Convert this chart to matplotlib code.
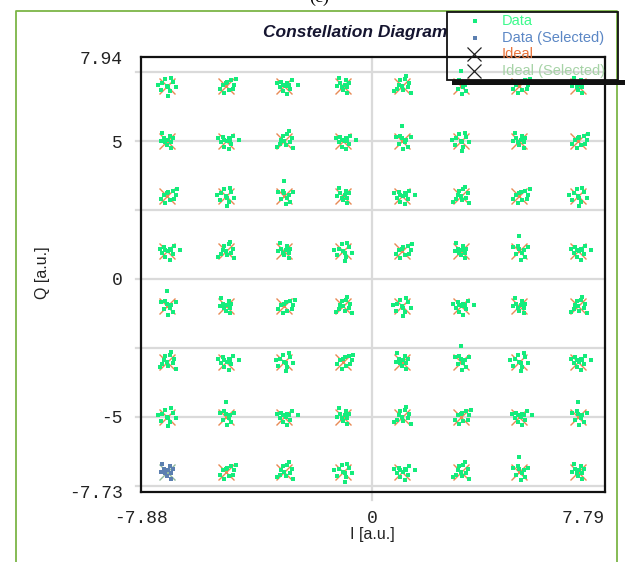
import matplotlib.pyplot as plt
import numpy as np
from matplotlib.lines import Line2D
from matplotlib.patches import Rectangle

# 64-QAM ideal levels
levels = [-7, -5, -3, -1, 1, 3, 5, 7]

# hand-read scatter shapes around each ideal point (I, Q offsets, a.u.)
cloud_i = [
    [-0.15, 0.05, 0.20, -0.05, 0.10, -0.20, 0.30, 0.00, -0.30, 0.15, 0.05],
    [0.20, -0.10, 0.25, 0.05, -0.20, 0.30, 0.10, -0.05, 0.35, 0.00],
    [-0.10, 0.10, -0.15, 0.20, 0.05, -0.05, 0.25, -0.25, 0.10, 0.45, 0.15, -0.05],
    [0.10, -0.10, 0.15, 0.00, -0.20, 0.20, 0.05, -0.05, 0.15, -0.15],
    [0.00, 0.15, -0.10, 0.20, -0.20, 0.05, 0.30, -0.05, 0.10, 0.00],
    [-0.05, 0.10, 0.20, -0.15, 0.05, 0.25, -0.25, 0.15, 0.00, 0.30, -0.10],
]
cloud_q = [
    [0.10, -0.05, 0.15, 0.25, -0.20, -0.15, -0.05, 0.00, 0.05, 0.30, -0.35],
    [0.20, 0.05, -0.10, 0.15, -0.10, 0.05, -0.15, -0.25, 0.25, 0.10],
    [0.15, 0.10, -0.05, -0.10, 0.00, -0.20, 0.20, 0.10, -0.30, 0.05, 0.05, 0.05],
    [0.20, 0.10, -0.05, -0.15, 0.00, 0.10, 0.05, -0.05, -0.25, 0.30],
    [0.10, 0.05, -0.10, -0.20, 0.15, -0.30, 0.15, 0.20, -0.05, 0.55],
    [0.20, 0.25, -0.05, -0.10, -0.15, 0.10, -0.20, 0.35, 0.00, -0.25, 0.05],
]
# which shape each cluster looks like (rows: Q from 7 down to -7, cols: I from -7 to 7)
cloud_pick = [
    [0, 1, 2, 3, 5, 4, 1, 3],
    [3, 2, 5, 2, 4, 0, 3, 1],
    [1, 0, 4, 3, 2, 5, 1, 0],
    [2, 5, 3, 0, 1, 3, 4, 2],
    [4, 3, 1, 5, 0, 2, 3, 5],
    [5, 2, 0, 1, 3, 4, 0, 2],
    [0, 4, 2, 3, 5, 1, 2, 4],
    [3, 1, 5, 0, 2, 5, 4, 3],
]
selected = (-7, -7)

legend_labels = ['Data', 'Data (Selected)', 'Ideal', 'Ideal (Selected)']
legend_colors = ['#3dfa8c', '#5b87c5', '#e8743c', '#a6d3a6']

c_data = '#14ec7c'
c_sel = '#5b7fb0'
c_ideal = '#e88a55'
c_ideal_sel = '#8fb99a'
mono = 'Liberation Mono'
sans = 'Liberation Sans'

fig = plt.figure(figsize=(6.25, 5.62), dpi=100)
ax = fig.add_axes([141 / 625, 70 / 562, 464 / 625, 435 / 562])
ax.set_xlim(-7.88, 7.92)
ax.set_ylim(-7.73, 8.05)

# grid (drawn by hand so the lines poke out of the frame a little)
ygt = ax.get_yaxis_transform()
xgt = ax.get_xaxis_transform()
for g in [-7.5, -5, -2.5, 0, 2.5, 5, 7.5]:
    ax.plot([-0.011, 1], [g, g], transform=ygt, color='#dadada', lw=1.6,
            clip_on=False, zorder=0)
ax.plot([0, 0], [-0.018, 1], transform=xgt, color='#dadada', lw=1.6,
        clip_on=False, zorder=0)

for r, q in enumerate(levels[::-1]):
    for c, i in enumerate(levels):
        k = cloud_pick[r][c]
        sel = (i, q) == selected
        ax.plot(i, q, marker='x', ms=11.5, mew=1.0, ls='none',
                color=c_ideal_sel if sel else c_ideal, zorder=2)
        ax.plot(np.add(i, cloud_i[k]), np.add(q, cloud_q[k]), 's', ms=2.6,
                mew=0, color=c_sel if sel else c_data, zorder=3)

ax.set_xticks([-7.88, 0, 7.92])
ax.set_xticklabels(['-7.88', '0', '7.79'])
ax.set_yticks([-7.73, -5, 0, 5, 8.05])
ax.set_yticklabels(['-7.73', '-5', '0', '5', '7.94'])
ax.tick_params(length=0, labelsize=13, pad=13)
for t in ax.get_xticklabels() + ax.get_yticklabels():
    t.set_family(mono)
    t.set_color('#222222')
ax.get_xticklabels()[2].set_ha('right')
for s in ax.spines.values():
    s.set_linewidth(1.6)
    s.set_color('#111111')

fig.text(42 / 625, 1 - 273 / 562, 'Q [a.u.]', rotation=90, ha='center',
         va='center', fontsize=11.5, family=sans, color='#222222')
fig.text(372 / 625, 1 - 535 / 562, 'I [a.u.]', ha='center', va='center',
         fontsize=11.5, family=sans, color='#222222')

# caption and title, partly hidden by the legend
fig.text(319 / 625, 1 + 3 / 562, '(c)', ha='center', va='center',
         fontsize=13, family='Liberation Serif', zorder=-3)
fig.text(263 / 625, 1 - 32 / 562, 'Constellation Diagram', ha='left',
         va='center', fontsize=12.5, family=sans, weight='bold',
         style='italic', color='#151530', zorder=-3)
fig.patches.append(Rectangle((447 / 625, 1 - 80 / 562), 173 / 625, 68 / 562,
                             transform=fig.transFigure, facecolor='white',
                             edgecolor='none', zorder=-2))

# outer green frame
fig.add_artist(Line2D([16 / 625, 16 / 625, 617 / 625, 617 / 625],
                      [0, 1 - 11 / 562, 1 - 11 / 562, 0], color='#7cb547',
                      lw=1.3, zorder=6))

# legend
fig.add_artist(Rectangle((447 / 625, 1 - 80 / 562), 171 / 625, 68 / 562,
                         transform=fig.transFigure, facecolor='none',
                         edgecolor='#111111', lw=1.3, zorder=7))
fig.add_artist(Rectangle((452 / 625, 1 - 85 / 562), 175 / 625, 5 / 562,
                         transform=fig.transFigure, facecolor='#111111',
                         edgecolor='none', zorder=7))
rows_y = [21, 38, 54, 71]
for n, lab in enumerate(legend_labels):
    y = 1 - rows_y[n] / 562
    if n < 2:
        fig.add_artist(Line2D([475 / 625], [y], marker='s', ms=2.2, mew=0,
                              color=[c_data, c_sel][n], zorder=8))
    else:
        fig.add_artist(Line2D([474 / 625], [y], marker='x', ms=10, mew=0.9,
                              color='#222222', zorder=8))
    fig.text(502 / 625, y, lab, ha='left', va='center', fontsize=10.5,
             family=sans, color=legend_colors[n], zorder=8)

fig.savefig('out.png', dpi=100)
